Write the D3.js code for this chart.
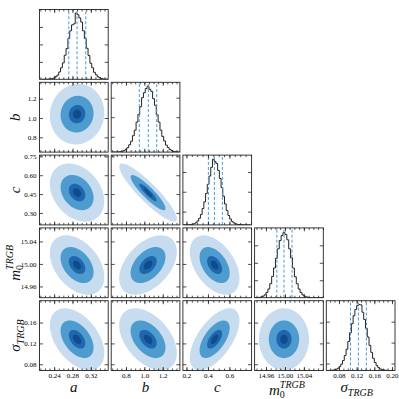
<!DOCTYPE html>
<head>
  <meta charset="utf-8">
  <title>Corner plot</title>
  <script src="https://d3js.org/d3.v7.min.js"></script>
  <style>
    body { margin: 0; background: #fff; }
    text { font-family: "Liberation Serif", "DejaVu Serif", serif; }
    .frame { fill: none; stroke: #222; stroke-width: 0.9; }
    .axis line { stroke: #222; stroke-width: 0.8; }
    .hist { fill: none; stroke: #222; stroke-width: 1; }
    .quant { stroke: #4a9ad8; stroke-width: 1; stroke-dasharray: 3,2; }
    .lab { font-style: italic; fill: #111; }
  </style>
</head>
<body>
<svg width="399" height="399"></svg>
<script>
// parameters, in plot order
const params = ["a", "b", "c", "m0", "sigma"];

// axis ranges (x for columns, y for rows)
const xDomains = [[0.208, 0.358], [0.639, 1.387], [0.167, 0.806], [14.936, 15.081], [0.0513, 0.2068]];
const yDomains = [null, [0.647, 1.37], [0.205, 0.76], [14.94, 15.064], [0.068, 0.202]];

const xTickVals   = [[0.24, 0.28, 0.32], [0.8, 1.0, 1.2], [0.2, 0.4, 0.6], [14.96, 15.00, 15.04], [0.08, 0.12, 0.16, 0.20]];
const xTickLabels = [["0.24", "0.28", "0.32"], ["0.8", "1.0", "1.2"], ["0.2", "0.4", "0.6"], ["14.96", "15.00", "15.04"], ["0.08", "0.12", "0.16", "0.20"]];
const yTickVals   = [null, [0.8, 1.0, 1.2], [0.30, 0.45, 0.60, 0.75], [14.96, 15.00, 15.04], [0.08, 0.12, 0.16]];
const yTickLabels = [null, ["0.8", "1.0", "1.2"], ["0.30", "0.45", "0.60", "0.75"], ["14.96", "15.00", "15.04"], ["0.08", "0.12", "0.16"]];
const minorStep = [0.01, 0.05, 0.05, 0.01, 0.01];

// 16/50/84 percentiles (dashed lines)
const q16 = [0.272, 0.945, 0.404, 14.983, 0.106];
const q50 = [0.290, 1.043, 0.460, 14.998, 0.124];
const q84 = [0.309, 1.135, 0.534, 15.015, 0.142];

// 2d posterior: peak, width and correlations (lower triangle)
const peak   = [0.290, 1.040, 0.462, 14.998, 0.128];
const spread = [0.018, 0.095, 0.070, 0.016, 0.018];
const corr = [
  [],
  [0.05],
  [-0.30, -0.90],
  [-0.40, 0.45, -0.45],
  [-0.45, -0.45, 0.60, 0.0]
];
const sigmaLevels = [3.3, 2, 1, 0.5];
const shades = ["#c8dcf0", "#4e9bd0", "#2066ad", "#0e4c8c"];

// 1d histograms
const binStart = [0.214, 0.65, 0.17, 14.936, 0.052];
const binWidth = [0.004, 0.02, 0.016, 0.004, 0.004];
const counts_a = [0, 1, 3, 5, 12, 22, 38, 75, 120, 210, 330, 470, 690, 880, 1170, 1390, 1560, 1590, 1900, 1850, 1760, 1640, 1390, 1170, 890, 680, 460, 330, 200, 130, 70, 42, 20, 10, 5, 2];
const counts_b = [1, 2, 3, 6, 12, 25, 40, 80, 125, 210, 310, 470, 630, 860, 1080, 1300, 1560, 1700, 1820, 1890, 1800, 1740, 1530, 1340, 1070, 860, 630, 450, 320, 200, 130, 75, 45, 22, 12, 6, 2];
const counts_c = [0, 1, 2, 4, 8, 16, 34, 62, 110, 190, 300, 470, 660, 900, 1160, 1400, 1650, 1880, 1820, 1760, 1560, 1330, 1070, 820, 600, 410, 270, 170, 100, 58, 32, 17, 9, 5, 2, 1, 0, 0, 0];
const counts_m = [2, 4, 9, 20, 42, 80, 150, 250, 400, 610, 850, 1130, 1400, 1640, 1780, 1870, 1810, 1660, 1400, 1140, 850, 600, 400, 250, 150, 82, 44, 22, 10, 5, 2, 1, 0, 0, 0, 0];
const counts_s = [1, 2, 4, 9, 18, 35, 63, 108, 180, 285, 430, 610, 830, 1080, 1340, 1570, 1750, 1860, 1890, 1880, 1670, 1460, 1210, 960, 720, 520, 350, 230, 140, 83, 47, 25, 12, 6, 3, 1, 0, 0];
const histMax = 2000;
const histTicks = [[500, 1000, 1500], [440, 1000, 1560], [380, 950, 1515], [500, 1000, 1500], [200, 800, 1400]];

const svg = d3.select("svg"),
  ox = 39.5, oy = 9.5, pw = 68.7, ph = 69.8, stepX = 71.7, stepY = 72.8,
  n = params.length,
  counts = [counts_a, counts_b, counts_c, counts_m, counts_s];

const xs = xDomains.map((d, i) => d3.scaleLinear().domain(d).range([ox + i * stepX, ox + i * stepX + pw]));
const ys = yDomains.map((d, j) => d ? d3.scaleLinear().domain(d).range([oy + j * stepY + ph, oy + j * stepY]) : null);

function minorTicks(i) {
  const [d0, d1] = xDomains[i], s = minorStep[i];
  return d3.range(Math.ceil(d0 / s - 1e-9), Math.floor(d1 / s + 1e-9) + 1).map(k => +(k * s).toFixed(4));
}

function cleanAxis(g) {
  g.select(".domain").remove();
  g.attr("font-size", 7).attr("font-family", null);
}

const grid = 90;
function densityPanel(g, i, j) {
  const [x0, x1] = xDomains[j], [y0, y1] = yDomains[i];
  const sx = spread[j], sy = spread[i], r = corr[i][j];
  const values = new Array(grid * grid);
  for (let gy = 0; gy < grid; gy++) {
    for (let gx = 0; gx < grid; gx++) {
      const u = (x0 + (gx + 0.5) * (x1 - x0) / grid - peak[j]) / sx;
      const v = (y0 + (gy + 0.5) * (y1 - y0) / grid - peak[i]) / sy;
      values[gy * grid + gx] = Math.exp(-0.5 * (u * u - 2 * r * u * v + v * v) / (1 - r * r));
    }
  }
  const thresholds = sigmaLevels.map(s => Math.exp(-0.5 * s * s));
  const cs = d3.contours().size([grid, grid]).thresholds(thresholds)(values);
  const proj = d3.geoTransform({
    point(px, py) {
      this.stream.point(xs[j](x0 + px * (x1 - x0) / grid), ys[i](y0 + py * (y1 - y0) / grid));
    }
  });
  g.selectAll("path.lvl").data(cs).join("path")
    .attr("class", "lvl")
    .attr("d", d3.geoPath(proj))
    .attr("fill", (d, k) => shades[k]);
}

function histPanel(g, i, hy) {
  const c = counts[i];
  const pts = [[binStart[i], 0]].concat(c.map((v, k) => [binStart[i] + k * binWidth[i], v]));
  pts.push([binStart[i] + c.length * binWidth[i], c[c.length - 1]]);
  pts.push([binStart[i] + c.length * binWidth[i], 0]);
  g.append("path").attr("class", "hist")
    .attr("d", d3.line().x(d => xs[i](d[0])).y(d => hy(d[1])).curve(d3.curveStepAfter)(pts));
  [q16[i], q50[i], q84[i]].forEach(q => {
    g.append("line").attr("class", "quant")
      .attr("x1", xs[i](q)).attr("x2", xs[i](q))
      .attr("y1", hy.range()[0]).attr("y2", hy.range()[1]);
  });
}

for (let i = 0; i < n; i++) {
  for (let j = 0; j <= i; j++) {
    const x = xs[j], px0 = x.range()[0], py0 = oy + i * stepY;
    const g = svg.append("g");
    const clipId = `clip-${i}-${j}`;
    svg.append("clipPath").attr("id", clipId)
      .append("rect").attr("x", px0).attr("y", py0).attr("width", pw).attr("height", ph);
    const body = g.append("g").attr("clip-path", `url(#${clipId})`);

    let yScale, yVals, yLabels = null;
    if (i === j) {
      yScale = d3.scaleLinear().domain([0, histMax]).range([py0 + ph, py0]);
      yVals = histTicks[i];
      histPanel(body, i, yScale);
    } else {
      yScale = ys[i];
      yVals = yTickVals[i];
      if (j === 0) yLabels = yTickLabels[i];
      densityPanel(body, i, j);
    }

    // ticks inward on all four sides
    const showX = i === n - 1;
    g.append("g").attr("class", "axis").attr("transform", `translate(0,${py0 + ph})`)
      .call(d3.axisBottom(x).tickValues(xTickVals[j]).tickSize(-3.5).tickPadding(3)
        .tickFormat(showX ? (d, k) => xTickLabels[j][k] : ""))
      .call(cleanAxis);
    g.append("g").attr("class", "axis").attr("transform", `translate(0,${py0 + ph})`)
      .call(d3.axisBottom(x).tickValues(minorTicks(j)).tickSize(-2).tickFormat(""))
      .call(cleanAxis);
    g.append("g").attr("class", "axis").attr("transform", `translate(0,${py0})`)
      .call(d3.axisTop(x).tickValues(xTickVals[j]).tickSize(-3.5).tickFormat(""))
      .call(cleanAxis);
    g.append("g").attr("class", "axis").attr("transform", `translate(0,${py0})`)
      .call(d3.axisTop(x).tickValues(minorTicks(j)).tickSize(-2).tickFormat(""))
      .call(cleanAxis);
    g.append("g").attr("class", "axis").attr("transform", `translate(${px0},0)`)
      .call(d3.axisLeft(yScale).tickValues(yVals).tickSize(-3.5).tickPadding(3)
        .tickFormat(yLabels ? (d, k) => yLabels[k] : ""))
      .call(cleanAxis);
    g.append("g").attr("class", "axis").attr("transform", `translate(${px0 + pw},0)`)
      .call(d3.axisRight(yScale).tickValues(yVals).tickSize(-3.5).tickFormat(""))
      .call(cleanAxis);

    g.append("rect").attr("class", "frame")
      .attr("x", px0).attr("y", py0).attr("width", pw).attr("height", ph);
  }
}

// axis labels
function mathLabel(g, p) {
  const t = g.append("text").attr("class", "lab").attr("text-anchor", "middle").attr("font-size", 15);
  if (p === "m0") {
    t.append("tspan").text("m");
    t.append("tspan").attr("font-size", 10).attr("font-style", "normal").attr("dy", 3).text("0");
    t.append("tspan").attr("font-size", 10).attr("dx", -5).attr("dy", -10).text("TRGB");
  } else if (p === "sigma") {
    t.append("tspan").text("σ");
    t.append("tspan").attr("font-size", 10).attr("dy", 4).text("TRGB");
  } else {
    t.text(p);
  }
}

params.forEach((p, i) => {
  const cx = xs[i].range()[0] + pw / 2;
  const shift = p === "m0" ? -2 : p === "sigma" ? -4 : 0;
  const base = p === "m0" ? 395 : 392;
  mathLabel(svg.append("g").attr("transform", `translate(${cx + shift},${base})`), p);
  if (i > 0) {
    const cy = oy + i * stepY + ph / 2;
    mathLabel(svg.append("g").attr("transform", `translate(20,${cy}) rotate(-90)`), p);
  }
});
</script>
</body>
